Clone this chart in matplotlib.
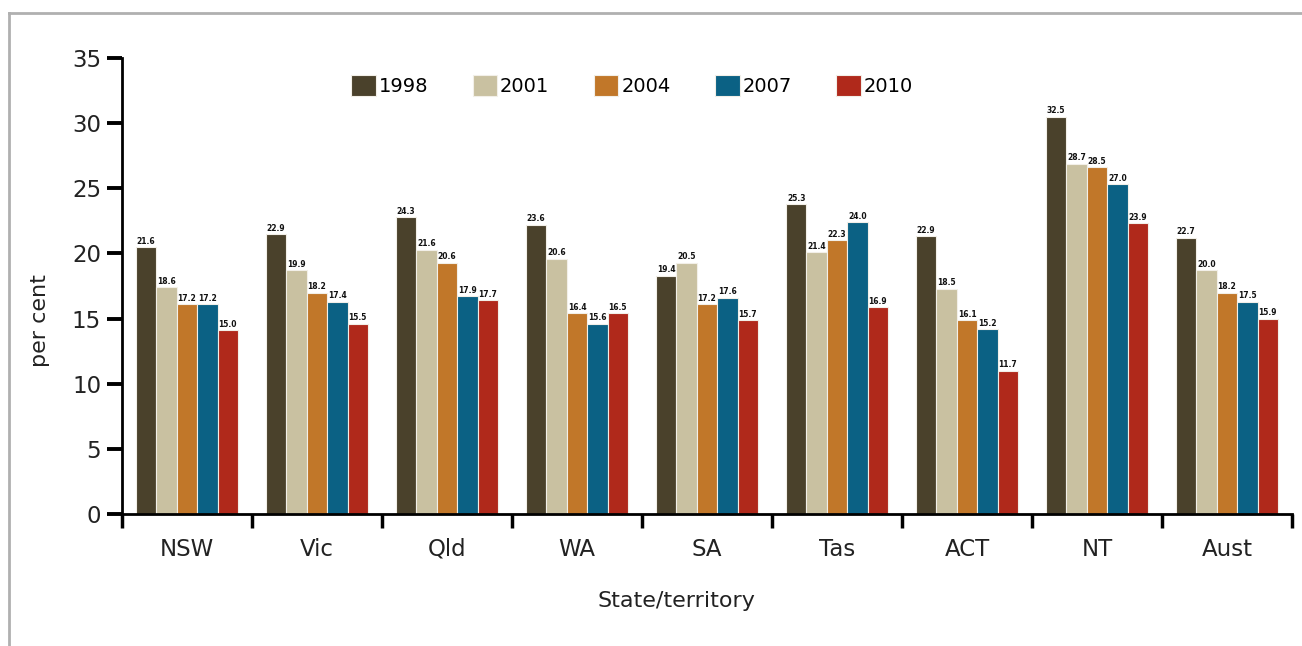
import numpy as np
import matplotlib
matplotlib.use("Agg")
import matplotlib.pyplot as plt
from matplotlib.lines import Line2D

plt.rcParams['font.family'] = ['DejaVu Sans']

states = ['NSW', 'Vic', 'Qld', 'WA', 'SA', 'Tas', 'ACT', 'NT', 'Aust']
years = ['1998', '2001', '2004', '2007', '2010']
colors = ['#4a412b', '#c9c1a1', '#c17729', '#0b6184', '#b0291b']

# bar heights as drawn on the axis
h1998 = [20.5, 21.5, 22.8, 22.2, 18.3, 23.8, 21.3, 30.5, 21.2]
h2001 = [17.4, 18.7, 20.3, 19.6, 19.3, 20.1, 17.3, 26.9, 18.7]
h2004 = [16.1, 17.0, 19.3, 15.4, 16.1, 21.0, 14.9, 26.6, 17.0]
h2007 = [16.1, 16.3, 16.7, 14.6, 16.6, 22.4, 14.2, 25.3, 16.3]
h2010 = [14.1, 14.6, 16.4, 15.4, 14.9, 15.9, 11.0, 22.3, 15.0]

# value labels printed above the bars
l1998 = ['21.6', '22.9', '24.3', '23.6', '19.4', '25.3', '22.9', '32.5', '22.7']
l2001 = ['18.6', '19.9', '21.6', '20.6', '20.5', '21.4', '18.5', '28.7', '20.0']
l2004 = ['17.2', '18.2', '20.6', '16.4', '17.2', '22.3', '16.1', '28.5', '18.2']
l2007 = ['17.2', '17.4', '17.9', '15.6', '17.6', '24.0', '15.2', '27.0', '17.5']
l2010 = ['15.0', '15.5', '17.7', '16.5', '15.7', '16.9', '11.7', '23.9', '15.9']

heights = [h1998, h2001, h2004, h2007, h2010]
labels = [l1998, l2001, l2004, l2007, l2010]

fig = plt.figure(figsize=(13.02, 6.46), dpi=100)
ax = fig.add_axes([122 / 1302, 132 / 646, 1170 / 1302, 456 / 646])

x = np.arange(len(states))
w = 0.157
for i, (yr, col) in enumerate(zip(years, colors)):
    pos = x + (i - 2) * w
    ax.bar(pos, heights[i], width=w, color=col, edgecolor='#f2efe8',
           linewidth=0.8, label=yr, zorder=2)
    for px, hv, lab in zip(pos, heights[i], labels[i]):
        ax.text(px, hv + 0.1, lab, ha='center', va='bottom', fontsize=5.5,
                fontweight='bold', color='#111111')

ax.set_xlim(-0.5, 8.5)
ax.set_ylim(0, 35)
ax.set_yticks(np.arange(0, 36, 5))
ax.set_xticks(x)
ax.set_xticklabels(states)
ax.set_xticks(np.arange(-0.5, 9, 1), minor=True)
ax.tick_params(axis='x', which='major', length=0, pad=17, labelsize=16.5,
               labelcolor='#222222')
ax.tick_params(axis='x', which='minor', length=10, width=2.5, direction='out',
               pad=0, color='black')
ax.tick_params(axis='y', length=11, width=2.8, pad=4, labelsize=16.5,
               labelcolor='#222222')

for s in ['top', 'right']:
    ax.spines[s].set_visible(False)
ax.spines['left'].set_linewidth(2)
ax.spines['bottom'].set_linewidth(2)

ax.set_ylabel('per cent', fontsize=16, color='#222222')
ax.yaxis.set_label_coords(-0.0615, 0.425)
ax.set_xlabel('State/territory', fontsize=16, color='#222222')
ax.xaxis.set_label_coords(0.474, -0.168)

ax.legend(loc='upper center', bbox_to_anchor=(0.436, 1.0), ncol=5, frameon=False,
          fontsize=14, handlelength=1.25, handleheight=1.25, handletextpad=0.15,
          columnspacing=2.3)

# grey frame around the chart
fig.add_artist(Line2D([8.5 / 1302, 8.5 / 1302], [0, 1 - 13 / 646],
                      color='#b0b0b0', linewidth=2, transform=fig.transFigure))
fig.add_artist(Line2D([8.5 / 1302, 1], [1 - 13 / 646, 1 - 13 / 646],
                      color='#b0b0b0', linewidth=2, transform=fig.transFigure))

fig.savefig('out.png', dpi=100)
